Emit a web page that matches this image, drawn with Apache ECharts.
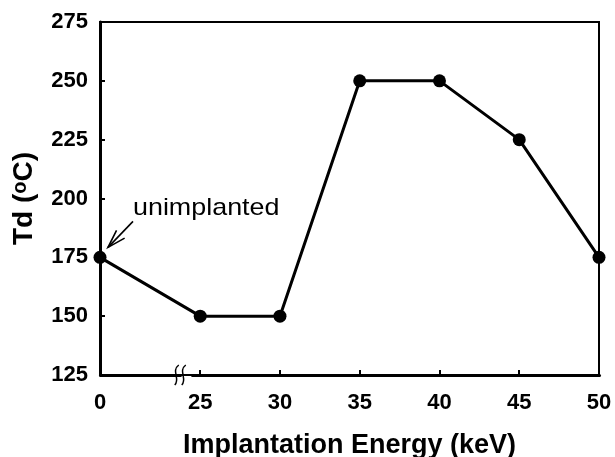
<!DOCTYPE html>
<html lang="en">
<head>
    <meta charset="UTF-8">
    <title>Td vs Implantation Energy</title>
    <script src="https://cdn.jsdelivr.net/npm/echarts@6.0.0/dist/echarts.min.js"></script>
    <style>
        body, html {
            margin: 0;
            padding: 0;
            width: 100%;
            height: 100%;
            overflow: hidden;
            background-color: #fff;
        }
        #container {
            width: 615px;
            height: 457px;
        }
    </style>
</head>
<body>
    <div id="container"></div>
    <script>
        // data
        var energy = [0, 25, 30, 35, 40, 45, 50];
        var td = [175, 150, 150, 250, 250, 225, 175];
        var xTickValues = [0, 25, 30, 35, 40, 45, 50];
        var xMinorTicks = [25, 30, 35, 40, 45];
        var annotation = 'unimplanted';

        var font = 'Liberation Sans, Arial, sans-serif';

        var option = {
            backgroundColor: '#fff',
            animation: false,
            grid: {
                left: 100,
                right: 16,
                top: 22,
                bottom: 82,
                outerBoundsMode: 'none',
                containLabel: false,
                show: true,
                borderColor: '#000',
                borderWidth: 2
            },
            xAxis: {
                type: 'value',
                min: 0,
                max: 50,
                breaks: [{ start: 5, end: 24.5, gap: '2.5%' }],
                breakArea: { show: false },
                name: 'Implantation Energy (keV)',
                nameLocation: 'middle',
                nameGap: 57,
                nameTextStyle: { fontFamily: font, fontSize: 27, fontWeight: 'bold', color: '#000' },
                axisLine: { lineStyle: { color: '#000', width: 3 } },
                axisTick: { show: true, inside: true, length: 5, customValues: xMinorTicks, lineStyle: { color: '#000', width: 2 } },
                axisLabel: { customValues: xTickValues, margin: 17, fontFamily: font, fontSize: 22, fontWeight: 'bold', color: '#000' },
                splitLine: { show: false }
            },
            yAxis: {
                type: 'value',
                min: 125,
                max: 275,
                interval: 25,
                name: 'Td ({sup|o}C)',
                nameLocation: 'middle',
                nameRotate: 90,
                nameGap: 62,
                nameTextStyle: {
                    fontFamily: font, fontSize: 28, fontWeight: 'bold', color: '#000',
                    rich: { sup: { fontFamily: font, fontSize: 20, fontWeight: 'bold', color: '#000', verticalAlign: 'top' } }
                },
                axisLine: { show: true, lineStyle: { color: '#000', width: 3 } },
                axisTick: { show: true, inside: true, length: 5, lineStyle: { color: '#000', width: 2 } },
                axisLabel: { margin: 12, fontFamily: font, fontSize: 22, fontWeight: 'bold', color: '#000' },
                splitLine: { show: false }
            },
            series: [{
                type: 'line',
                data: energy.map(function (e, i) { return [e, td[i]]; }),
                symbol: 'circle',
                symbolSize: 13,
                itemStyle: { color: '#000' },
                lineStyle: { color: '#000', width: 3 }
            }]
        };

        var chart = echarts.init(document.getElementById('container'));
        chart.setOption(option);

        // annotation arrow + axis break mark, placed from the converted data point
        var p = chart.convertToPixel({ seriesIndex: 0 }, [energy[0], td[0]]);
        var bx = chart.convertToPixel({ xAxisIndex: 0 }, 5);
        var ay = chart.convertToPixel({ yAxisIndex: 0 }, 125);

        var tip = [p[0] + 8, p[1] - 10];
        var tail = [p[0] + 33, p[1] - 36];
        var ang = Math.atan2(tail[1] - tip[1], tail[0] - tip[0]);
        var hl = 19, spread = 0.3;
        function prong(s) {
            return [tip[0] + hl * Math.cos(ang + s), tip[1] + hl * Math.sin(ang + s)];
        }

        function squiggle(x) {
            return {
                type: 'bezierCurve',
                shape: { x1: x + 3, y1: ay - 10, cpx1: x - 5, cpy1: ay - 4, cpx2: x + 5, cpy2: ay + 4, x2: x - 1, y2: ay + 10 },
                style: { stroke: '#000', lineWidth: 1.5, fill: null },
                z: 10
            };
        }

        chart.setOption({
            graphic: [
                {
                    type: 'text',
                    x: tail[0],
                    y: p[1] - 61,
                    scaleX: 1.12,
                    style: { text: annotation, font: '24px ' + font, fill: '#000' }
                },
                {
                    type: 'line',
                    shape: { x1: tail[0], y1: tail[1], x2: tip[0], y2: tip[1] },
                    style: { stroke: '#000', lineWidth: 1.6 }
                },
                {
                    type: 'polyline',
                    shape: { points: [prong(spread), tip, prong(-spread)] },
                    style: { stroke: '#000', lineWidth: 1.6, fill: null }
                },
                squiggle(bx - 4),
                squiggle(bx + 3)
            ]
        });
    </script>
</body>
</html>
